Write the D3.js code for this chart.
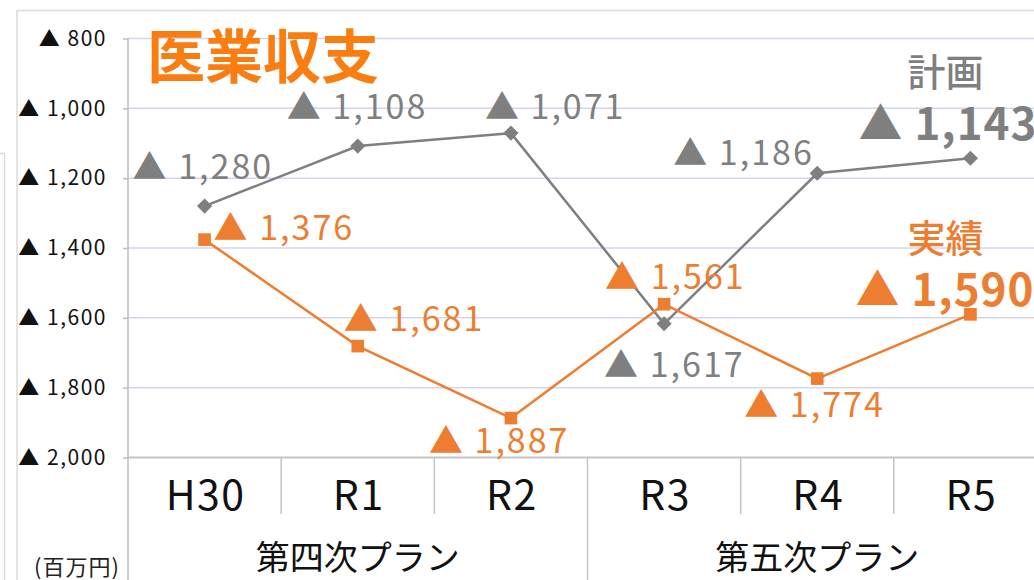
<!DOCTYPE html>
<html lang="ja">
<head>
<meta charset="utf-8">
<script src="https://cdn.jsdelivr.net/npm/d3@7"></script>
<style>
  body { margin: 0; background: #fff; }
  svg { display: block; font-family: 'Noto Sans CJK JP', 'Noto Sans', sans-serif; }
</style>
</head>
<body>
<script>
// ! Data (赤字 in 百万円, shown with ▲)
const categories = ['H30', 'R1', 'R2', 'R3', 'R4', 'R5'];
const planValues = [1280, 1108, 1071, 1617, 1186, 1143];
const actualValues = [1376, 1681, 1887, 1561, 1774, 1590];
const yTicks = [800, 1000, 1200, 1400, 1600, 1800, 2000];
const groups = [
  { name: '第四次プラン', from: 'H30', to: 'R2' },
  { name: '第五次プラン', from: 'R3', to: 'R5' },
];

// * Where each data label sits relative to its point [dx, dy]
const planLabelOffsets = [[-72, -27], [-71, -27], [-26, -14], [-60, 53], [-144, -8], [-112, -18]];
const actualLabelOffsets = [[9, 0], [-14, -15], [-82, 35], [-59, -15], [-73, 38], [-115, -8]];

// ! Drawing begins here
const width = 1034;
const height = 580;
const gray = '#7f7f7f';
const orange = '#ed7d31';
const fmt = d3.format(',');

const svg = d3
  .select('body')
  .append('svg')
  .attr('width', width)
  .attr('height', height);

// * Scales
const x = d3.scaleBand().domain(categories).range([128, 1047]).padding(0);
const y = d3.scaleLinear().domain([800, 2000]).range([38.5, 457.5]);
const cx = (c) => x(c) + x.bandwidth() / 2;

// * Outer frame lines (slide panel edges)
svg.append('path')
  .attr('d', `M17,${height}V10.5H${width}`)
  .attr('fill', 'none')
  .attr('stroke', '#dcdcdc')
  .attr('stroke-width', 1.5);
svg.append('path')
  .attr('d', `M0,153.5H4.5V${height}`)
  .attr('fill', 'none')
  .attr('stroke', '#dcdcdc')
  .attr('stroke-width', 1.5);

// * Gridlines
svg.append('g')
  .selectAll('line')
  .data(yTicks.slice(0, -1))
  .enter()
  .append('line')
  .attr('x1', 128)
  .attr('x2', width)
  .attr('y1', (d) => y(d))
  .attr('y2', (d) => y(d))
  .attr('stroke', '#d3d5ee')
  .attr('stroke-width', 1.5);

// * Y axis with ▲ labels
const yAxis = svg.append('g')
  .attr('transform', 'translate(128,0)')
  .call(d3.axisLeft(y).tickValues(yTicks).tickSize(5).tickPadding(16)
    .tickFormat((d) => `▲ ${fmt(d)}`));
yAxis.select('.domain').remove();
yAxis.selectAll('.tick line').attr('stroke', '#bdbdbd').attr('stroke-width', 1.5);
yAxis.selectAll('.tick text')
  .attr('fill', '#111')
  .style('font-size', '21px')
  .style('letter-spacing', '1.5px')
  .style('font-family', "'Noto Sans CJK JP', sans-serif");
svg.append('line')
  .attr('x1', 128).attr('x2', 128)
  .attr('y1', y(800)).attr('y2', height)
  .attr('stroke', '#bdbdbd')
  .attr('stroke-width', 1.5);

// * Category axis
svg.append('line')
  .attr('x1', 128).attr('x2', width)
  .attr('y1', y(2000)).attr('y2', y(2000))
  .attr('stroke', '#c4c4c4')
  .attr('stroke-width', 2);
svg.append('g')
  .selectAll('line')
  .data(categories.slice(1))
  .enter()
  .append('line')
  .attr('x1', (d) => x(d))
  .attr('x2', (d) => x(d))
  .attr('y1', y(2000))
  .attr('y2', (d) => (groups.some((g) => g.from === d) ? height : 514))
  .attr('stroke', '#c4c4c4')
  .attr('stroke-width', 1.5);
svg.append('g')
  .selectAll('text')
  .data(categories)
  .enter()
  .append('text')
  .attr('x', (d) => cx(d) + 1)
  .attr('y', 510)
  .attr('text-anchor', 'middle')
  .attr('fill', '#111')
  .style('font-size', '41px')
  .style('letter-spacing', '1.5px')
  .text((d) => d);
svg.append('g')
  .selectAll('text')
  .data(groups)
  .enter()
  .append('text')
  .attr('x', (d) => (x(d.from) + x(d.to) + x.bandwidth()) / 2)
  .attr('y', 570)
  .attr('text-anchor', 'middle')
  .attr('fill', '#111')
  .style('font-size', '34px')
  .text((d) => d.name);

svg.append('text')
  .attr('x', 34)
  .attr('y', 575)
  .attr('fill', '#222')
  .style('font-size', '22px')
  .style('letter-spacing', '1px')
  .text('(百万円)');

// * Title
svg.append('text')
  .attr('x', 147)
  .attr('y', 78)
  .attr('fill', '#fa7d12')
  .style('font-size', '58px')
  .style('font-weight', 700)
  .text('医業収支');

// * Series lines and markers
const line = d3.line()
  .x((d) => cx(d.cat))
  .y((d) => y(d.value));

function drawSeries(values, color, marker, rotate, offsets, legendName) {
  const rows = categories.map((cat, i) => ({ cat, value: values[i], off: offsets[i] }));
  const g = svg.append('g');
  g.append('path')
    .datum(rows)
    .attr('d', line)
    .attr('fill', 'none')
    .attr('stroke', color)
    .attr('stroke-width', 2.5);
  g.selectAll('.mark')
    .data(rows)
    .enter()
    .append('path')
    .attr('class', 'mark')
    .attr('d', marker)
    .attr('transform', (d) => `translate(${cx(d.cat)},${y(d.value)}) rotate(${rotate})`)
    .attr('fill', color);

  // * Data labels, last one large and bold
  const last = rows.length - 1;
  g.selectAll('.lbl')
    .data(rows)
    .enter()
    .append('text')
    .attr('class', 'lbl')
    .attr('x', (d) => cx(d.cat) + d.off[0])
    .attr('y', (d) => y(d.value) + d.off[1])
    .attr('fill', color)
    .style('font-size', (d, i) => (i === last ? '44px' : '34px'))
    .style('font-weight', (d, i) => (i === last ? 700 : 400))
    .style('letter-spacing', (d, i) => (i === last ? '1px' : '2px'))
    .text((d) => `▲ ${fmt(d.value)}`);

  // * Series name above the last label
  g.append('text')
    .attr('x', cx(categories[last]) - 25)
    .attr('y', y(values[last]) + offsets[last][1] - 54)
    .attr('text-anchor', 'middle')
    .attr('fill', color)
    .style('font-size', '38px')
    .style('font-weight', 500)
    .text(legendName);
}

const diamond = d3.symbol(d3.symbolSquare, 115)();
const square = d3.symbol(d3.symbolSquare, 160)();

drawSeries(planValues, gray, diamond, 45, planLabelOffsets, '計画');
drawSeries(actualValues, orange, square, 0, actualLabelOffsets, '実績');
</script>
</body>
</html>
